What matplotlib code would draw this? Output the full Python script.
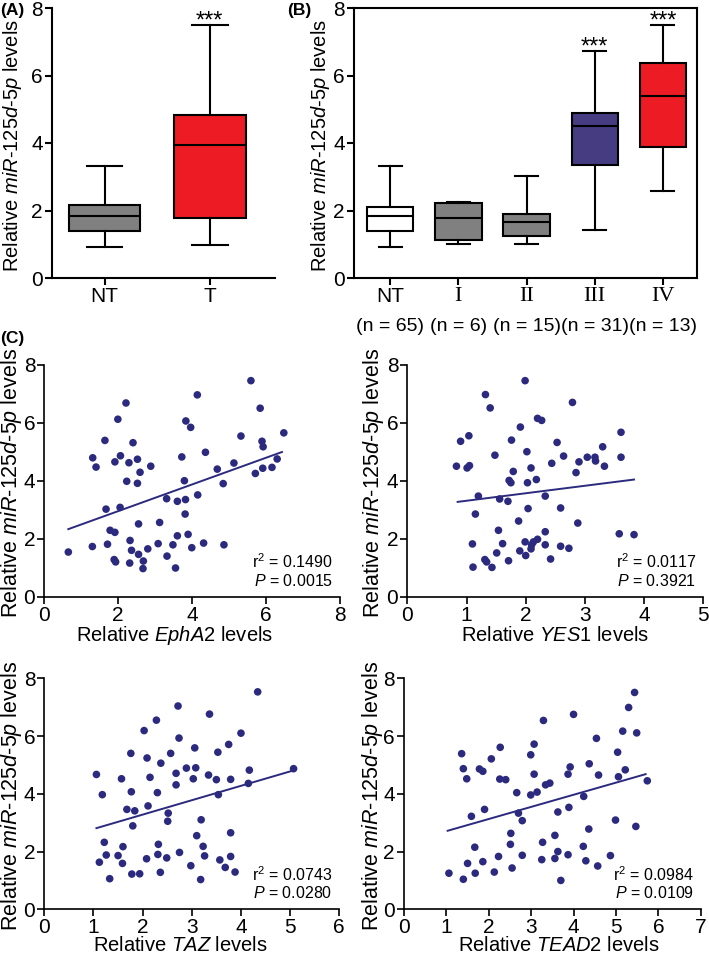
import numpy as np
import matplotlib
matplotlib.use("Agg")
import matplotlib.pyplot as plt
from matplotlib.font_manager import FontProperties

plt.rcParams['font.family'] = ['Liberation Sans', 'DejaVu Sans']
plt.rcParams['mathtext.fontset'] = 'custom'
plt.rcParams['mathtext.rm'] = 'Liberation Sans'
plt.rcParams['mathtext.it'] = 'Liberation Sans:italic'
plt.rcParams['mathtext.bf'] = 'Liberation Sans:bold'

# ---------------- data ----------------
# Panel A box stats
a_labels = ['NT', 'T']
a_whislo = [0.92, 0.99]
a_q1 = [1.39, 1.79]
a_med = [1.83, 3.93]
a_q3 = [2.16, 4.83]
a_whishi = [3.33, 7.50]
a_sig = ['', '***']

# Panel B box stats
b_labels = ['NT', 'I', 'II', 'III', 'IV']
b_n = ['(n = 65)', '(n = 6)', '(n = 15)', '(n = 31)', '(n = 13)']
b_whislo = [0.93, 1.01, 1.01, 1.41, 2.59]
b_q1 = [1.38, 1.14, 1.23, 3.36, 3.87]
b_med = [1.85, 1.78, 1.65, 4.49, 5.38]
b_q3 = [2.10, 2.21, 1.90, 4.89, 6.37]
b_whishi = [3.33, 2.25, 3.02, 6.74, 7.51]
b_sig = ['', '', '', '***', '***']

# Panel C scatter data (x = gene level, y = miR-125d-5p level)
epha2_x = [0.65, 1.30, 1.31, 1.40, 1.64, 1.67, 1.71, 1.78, 1.91, 1.89, 1.93, 1.91, 1.99,
           2.06, 2.05, 2.21, 2.23, 2.29, 2.32, 2.36, 2.31, 2.40, 2.52, 2.52, 2.59, 2.55,
           2.55, 2.68, 2.67, 2.80, 2.88, 3.12, 3.08, 3.31, 3.32, 3.48, 3.55, 3.60, 3.60,
           3.72, 3.79, 3.83, 3.82, 3.81, 3.89, 3.96, 3.99, 4.14, 4.15, 4.31, 4.36, 4.68,
           4.84, 4.86, 5.13, 5.32, 5.59, 5.71, 5.84, 5.89, 5.92, 5.91, 6.16, 6.30, 6.48]
epha2_y = [1.55, 1.74, 4.80, 4.48, 5.40, 3.03, 1.82, 2.30, 2.23, 1.29, 1.21, 4.66, 6.13,
           4.87, 3.09, 6.69, 3.99, 4.63, 1.95, 1.61, 1.17, 5.32, 4.75, 3.92, 4.30, 2.52,
           1.47, 1.24, 0.98, 1.66, 4.51, 2.57, 1.84, 3.39, 1.41, 1.80, 1.00, 3.30, 2.11,
           4.83, 4.01, 6.07, 3.36, 2.86, 2.16, 5.85, 1.70, 6.97, 3.52, 1.86, 4.99, 4.41,
           3.91, 1.80, 4.62, 5.55, 7.46, 4.26, 6.51, 5.37, 5.18, 4.44, 4.47, 4.76, 5.66]

yes1_x = [0.83, 0.90, 1.04, 1.01, 1.05, 1.10, 1.11, 1.15, 1.20, 1.32, 1.40, 1.31, 1.34,
          1.43, 1.48, 1.51, 1.54, 1.56, 1.61, 1.70, 1.71, 1.72, 1.75, 1.76, 1.79, 1.88,
          1.90, 1.91, 1.99, 1.99, 2.00, 2.02, 2.03, 2.04, 2.09, 2.09, 2.10, 2.13, 2.18,
          2.20, 2.20, 2.27, 2.33, 2.33, 2.33, 2.42, 2.44, 2.53, 2.59, 2.59, 2.64, 2.73,
          2.79, 2.85, 2.88, 2.90, 3.04, 3.17, 3.18, 3.30, 3.33, 3.58, 3.61, 3.61, 3.83]
yes1_y = [4.51, 5.37, 5.56, 4.45, 4.53, 1.83, 1.03, 2.86, 3.48, 6.98, 6.52, 1.29, 1.21,
          1.02, 4.89, 1.52, 2.30, 3.38, 1.84, 3.30, 1.25, 4.02, 3.94, 5.41, 4.33, 2.62,
          1.59, 5.86, 7.46, 1.90, 1.43, 5.01, 3.94, 3.05, 4.45, 1.66, 1.80, 1.90, 4.05,
          1.99, 6.16, 6.09, 3.48, 2.25, 1.80, 1.31, 4.61, 5.33, 3.07, 1.75, 4.86, 1.68,
          6.71, 4.29, 2.55, 4.66, 4.82, 4.82, 4.69, 5.18, 4.51, 2.18, 5.68, 4.82, 2.15]

taz_x = [1.06, 1.18, 1.22, 1.12, 1.26, 1.33, 1.50, 1.59, 1.60, 1.57, 1.68, 1.76, 1.77,
         1.84, 1.80, 1.78, 1.94, 2.03, 2.09, 2.15, 2.11, 2.08, 2.28, 2.37, 2.30, 2.32,
         2.31, 2.36, 2.49, 2.52, 2.51, 2.57, 2.68, 2.68, 2.72, 2.74, 2.75, 2.89, 2.98,
         3.03, 3.06, 3.08, 3.10, 3.19, 3.18, 3.23, 3.26, 3.34, 3.36, 3.50, 3.53, 3.54,
         3.57, 3.68, 3.75, 3.79, 3.79, 3.79, 3.88, 4.00, 4.15, 4.17, 4.34, 5.07]
taz_y = [4.67, 3.97, 2.32, 1.63, 1.88, 1.06, 1.86, 1.59, 2.17, 4.52, 3.46, 5.40, 4.07,
         3.41, 2.89, 1.22, 1.23, 6.19, 5.24, 4.57, 3.58, 1.75, 6.55, 5.06, 4.04, 2.25,
         1.90, 1.28, 1.78, 3.33, 3.05, 5.40, 4.71, 4.31, 7.04, 5.93, 1.97, 4.89, 1.51,
         4.52, 5.59, 4.90, 2.55, 3.10, 1.03, 2.18, 1.85, 4.65, 6.76, 4.49, 5.44, 3.97,
         1.71, 1.45, 5.71, 4.50, 2.65, 1.83, 1.29, 6.10, 4.36, 4.82, 7.53, 4.87]

tead2_x = [1.06, 1.40, 1.36, 1.40, 1.48, 1.50, 1.59, 1.67, 1.68, 1.78, 1.86, 1.86, 1.90,
           2.06, 2.13, 2.23, 2.27, 2.26, 2.40, 2.55, 2.51, 2.52, 2.66, 2.70, 2.79, 2.79,
           2.99, 3.07, 3.07, 2.99, 3.14, 3.29, 3.27, 3.25, 3.34, 3.44, 3.56, 3.56, 3.63,
           3.63, 3.70, 3.87, 3.92, 3.89, 3.87, 4.00, 4.24, 4.23, 4.29, 4.37, 4.36, 4.54,
           4.59, 4.57, 4.87, 4.99, 5.04, 5.06, 5.16, 5.22, 5.30, 5.44, 5.49, 5.47, 5.74]
tead2_y = [1.25, 1.04, 5.39, 4.87, 4.52, 1.59, 3.22, 2.15, 1.25, 4.86, 4.78, 1.65, 3.46,
           5.21, 1.29, 1.83, 5.61, 4.51, 4.49, 1.43, 2.25, 2.63, 4.04, 3.33, 3.07, 1.87,
           5.35, 5.72, 4.68, 3.96, 4.06, 6.54, 2.32, 1.72, 4.31, 4.37, 2.56, 1.76, 3.37,
           2.00, 1.00, 4.68, 4.93, 3.53, 1.89, 6.75, 3.91, 2.18, 1.68, 5.04, 2.78, 5.92,
           4.65, 1.50, 1.86, 3.09, 5.44, 4.59, 6.17, 4.83, 6.99, 7.51, 6.11, 2.87, 4.45]

# regression line end points
epha2_fit_x = [0.65, 6.43]
epha2_fit_y = [2.34, 5.00]
yes1_fit_x = [0.85, 3.83]
yes1_fit_y = [3.28, 4.05]
taz_fit_x = [1.06, 5.07]
taz_fit_y = [2.81, 4.81]
tead2_fit_x = [1.03, 5.70]
tead2_fit_y = [2.72, 4.68]

r2_vals = ['0.1490', '0.0117', '0.0743', '0.0984']
p_vals = ['0.0015', '0.3921', '0.0280', '0.0109']
genes = ['EphA2', 'YES1', 'TAZ', 'TEAD2']
x_max = [8, 5, 6, 7]

# ---------------- styling ----------------
GRAY = '#808080'
RED = '#ED1C24'
NAVY = '#463C82'
DOT = '#2B2A7E'
LW = 1.5
TICK_FS = 15
LAB_FS = 14.5
W, H = 709, 956
fig = plt.figure(figsize=(W / 100, H / 100), dpi=100)

def ax_px(l, r, t, b):
    return fig.add_axes([l / W, 1 - b / H, (r - l) / W, (b - t) / H])

ylab = r'Relative $\mathit{miR}$-$\mathit{125d}$-$\mathit{5p}$ levels'

def style(ax, lw=LW, fs=TICK_FS):
    for s in ax.spines.values():
        s.set_linewidth(lw)
    ax.tick_params(direction='out', width=lw, length=5, labelsize=fs, pad=1.5)

def boxes(ax, labels, lo, q1, med, q3, hi, colors):
    stats = []
    for i in range(len(labels)):
        stats.append(dict(med=med[i], q1=q1[i], q3=q3[i], whislo=lo[i], whishi=hi[i],
                          label=labels[i], fliers=[]))
    bp = ax.bxp(stats, positions=np.arange(1, len(labels) + 1), widths=0.68,
                showfliers=False, patch_artist=True,
                boxprops=dict(linewidth=LW, edgecolor='black'),
                medianprops=dict(color='black', linewidth=LW),
                whiskerprops=dict(color='black', linewidth=LW),
                capprops=dict(color='black', linewidth=LW))
    for p, c in zip(bp['boxes'], colors):
        p.set_facecolor(c)
    return bp

def stars(ax, his, sig):
    for i, s in enumerate(sig):
        if s:
            ax.text(i + 1, his[i] - 0.08, s, ha='center', va='baseline', fontsize=17,
                    clip_on=False)

# ---- Panel A ----
axA = ax_px(52, 275, 8, 278)
boxes(axA, a_labels, a_whislo, a_q1, a_med, a_q3, a_whishi, [GRAY, RED])
axA.set_xlim(0.5, 2.62)
axA.set_ylim(0, 8)
axA.set_yticks([0, 2, 4, 6, 8])
axA.spines['top'].set_visible(False)
axA.spines['right'].set_visible(False)
style(axA)
axA.set_xticks([1, 2], a_labels)
for t in axA.get_xticklabels():
    t.set_fontproperties(FontProperties(family='Liberation Sans', size=TICK_FS))
axA.set_ylabel(ylab, fontsize=LAB_FS, va='center')
axA.yaxis.set_label_coords(-0.175, 0.49)
stars(axA, a_whishi, a_sig)
fig.text(0 / W, 1 - 11 / H, '(A)', fontsize=12.5, fontweight='bold', ha='left', va='center')

# ---- Panel B ----
axB = ax_px(354, 697, 8, 278)
boxes(axB, b_labels, b_whislo, b_q1, b_med, b_q3, b_whishi, ['white', GRAY, GRAY, NAVY, RED])
axB.set_xlim(0.47, 5.5)
axB.set_ylim(0, 8)
axB.set_yticks([0, 2, 4, 6, 8])
style(axB)
axB.set_xticks(np.arange(1, 6), b_labels)
for j, t in enumerate(axB.get_xticklabels()):
    fam = 'Liberation Sans' if j == 0 else 'Liberation Serif'
    t.set_fontproperties(FontProperties(family=fam, size=TICK_FS + (0 if j == 0 else 1)))
axB.set_ylabel(ylab, fontsize=LAB_FS, va='center')
axB.yaxis.set_label_coords(-0.097, 0.49)
for i, n in enumerate(b_n):
    axB.text(i + 1, -0.178, n, transform=axB.get_xaxis_transform(), ha='center',
             va='center', fontsize=14)
stars(axB, b_whishi, b_sig)
fig.text(287 / W, 1 - 11 / H, '(B)', fontsize=12.5, fontweight='bold', ha='left', va='center')

# ---- Panel C ----
fig.text(0 / W, 1 - 338 / H, '(C)', fontsize=12.5, fontweight='bold', ha='left', va='center')
xs = [epha2_x, yes1_x, taz_x, tead2_x]
ys = [epha2_y, yes1_y, taz_y, tead2_y]
fxs = [epha2_fit_x, yes1_fit_x, taz_fit_x, tead2_fit_x]
fys = [epha2_fit_y, yes1_fit_y, taz_fit_y, tead2_fit_y]
boxes_px = [(44.3, 340, 365, 597), (407.3, 703.3, 365, 597),
            (44.3, 339.3, 678.3, 909.3), (404, 700.7, 678.3, 909.3)]
ylab_x = [-0.110, -0.113, -0.110, -0.106]
xlab_x = [0.442, 0.50, 0.46, 0.522]
xlab_y = [-0.165, -0.165, -0.157, -0.157]
for k in range(4):
    l, r, t, b = boxes_px[k]
    ax = ax_px(l, r, t, b)
    ax.scatter(xs[k], ys[k], s=30, color=DOT, edgecolors='none', zorder=3)
    ax.plot(fxs[k], fys[k], color=DOT, linewidth=1.4, zorder=2)
    ax.set_xlim(0, x_max[k])
    ax.set_ylim(0, 8)
    ax.set_xticks(range(0, x_max[k] + 1, 2 if x_max[k] == 8 else 1))
    ax.set_yticks([0, 2, 4, 6, 8])
    ax.spines['top'].set_visible(False)
    ax.spines['right'].set_visible(False)
    style(ax, lw=1.2)
    ax.set_ylabel(ylab, fontsize=15.5, va='center')
    ax.yaxis.set_label_coords(ylab_x[k], 0.49)
    ax.set_xlabel(r'Relative $\mathit{' + genes[k] + r'}$ levels', fontsize=14.5, va='center')
    ax.xaxis.set_label_coords(xlab_x[k], xlab_y[k])
    ax.text(0.976, 0.152, r'r$^2$ = ' + r2_vals[k], transform=ax.transAxes,
            ha='right', va='center', fontsize=11.5)
    ax.text(0.976, 0.070, r'$\mathit{P}$ = ' + p_vals[k], transform=ax.transAxes,
            ha='right', va='center', fontsize=11.5)

fig.savefig('out.png', dpi=100)
